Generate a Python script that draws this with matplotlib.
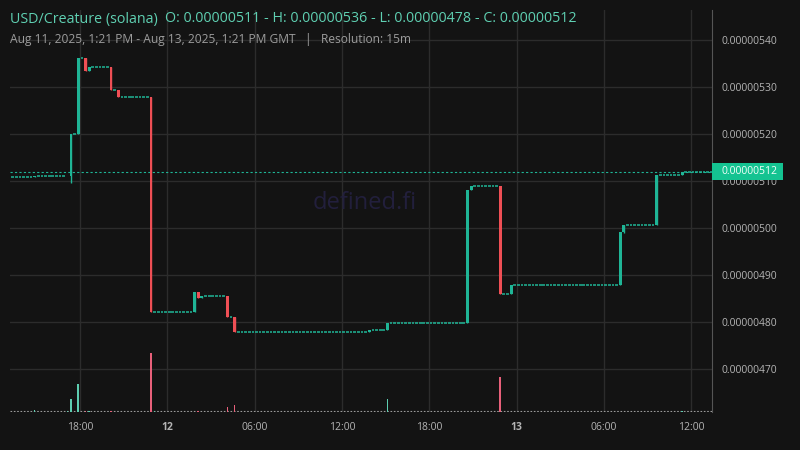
#!/usr/bin/env python3

import pandas as pd
import matplotlib
matplotlib.use("Agg")
import matplotlib.pyplot as plt
import matplotlib.dates as mdates
from matplotlib.patches import Rectangle
from matplotlib.ticker import FixedLocator, FuncFormatter

plt.rcParams['font.family'] = ['Open Sans', 'DejaVu Sans']

# price values in units of 1e-8 USD
start_price = 510.8
move_times = ["2025-08-11 14:45", "2025-08-11 17:00", "2025-08-11 17:15", "2025-08-11 17:45",
              "2025-08-11 18:15", "2025-08-11 18:30", "2025-08-11 20:00", "2025-08-11 20:30",
              "2025-08-11 22:45", "2025-08-12 01:45", "2025-08-12 02:00", "2025-08-12 02:15",
              "2025-08-12 04:00", "2025-08-12 04:30", "2025-08-12 13:45", "2025-08-12 15:00",
              "2025-08-12 20:30", "2025-08-12 20:45", "2025-08-12 22:45", "2025-08-12 23:30",
              "2025-08-13 07:00", "2025-08-13 07:15", "2025-08-13 09:30", "2025-08-13 11:15"]
move_open = [510.8, 511.0, 511.1, 520.1, 536.1, 533.5, 534.3, 529.4, 527.9, 482.2, 486.4, 485.1,
             485.5, 481.1, 477.9, 478.4, 479.8, 508.1, 508.9, 486.0, 487.8, 499.1, 500.6, 511.3]
move_close = [511.0, 511.1, 520.1, 536.1, 533.5, 534.3, 529.4, 527.9, 482.2, 486.4, 485.1, 485.5,
              481.1, 477.9, 478.4, 479.8, 508.1, 508.9, 486.0, 487.8, 499.1, 500.6, 511.3, 512.0]
move_low = [510.8, 511.0, 509.5, 520.1, 533.5, 533.5, 529.4, 527.9, 482.2, 482.2, 485.1, 485.1,
            481.1, 477.9, 477.9, 478.4, 479.8, 508.1, 486.0, 486.0, 487.8, 498.9, 500.6, 511.3]

# volume (relative) for candles that show a visible bar
vol_times = ["2025-08-11 14:45", "2025-08-11 17:00", "2025-08-11 17:15", "2025-08-11 17:45",
             "2025-08-11 18:15", "2025-08-11 18:30", "2025-08-11 20:00", "2025-08-11 22:45",
             "2025-08-11 23:00", "2025-08-12 02:00", "2025-08-12 04:00", "2025-08-12 04:30",
             "2025-08-12 15:00", "2025-08-12 22:45", "2025-08-13 11:15"]
vol_values = [2.5, 1.5, 13, 28, 1.5, 1, 1, 59, 1, 0.6, 5, 7, 13, 35, 1]

# build the 15m candle table (no trades -> flat candle at previous close)
idx = pd.date_range("2025-08-11 13:15", "2025-08-13 13:15", freq="15min")
moves = pd.DataFrame({"open": move_open, "close": move_close, "low": move_low},
                     index=pd.to_datetime(move_times))
df = pd.DataFrame(index=idx)
df = df.join(moves)
df["close"] = df["close"].ffill().fillna(start_price)
prev_close = df["close"].shift(1).fillna(start_price)
df["open"] = df["open"].fillna(prev_close)
df["low"] = df["low"].fillna(df[["open", "close"]].min(axis=1))
df["high"] = df[["open", "close"]].max(axis=1)
df["vol"] = 0.0
df.loc[pd.to_datetime(vol_times), "vol"] = vol_values

bg = "#131313"
green = "#1fb596"
red = "#ef4f55"
vgreen = "#5dcdb0"
vred = "#e8607a"
grid_c = "#2c2c2c"
text_c = "#b4b4b4"

fig = plt.figure(figsize=(8, 4.5), dpi=100, facecolor=bg)
ax = fig.add_axes([10 / 800, 38 / 450, 702 / 800, 402 / 450])
ax.set_facecolor(bg)

# volume on a twin axis (created first so the price ticks stay on the right)
vax = ax.twinx()

step = 15 / 1440
x = mdates.date2num(df.index.to_pydatetime()) + step / 2
scale = 1e-8
up = df["close"] >= df["open"]
flat = df["close"] == df["open"]
colors = [green if u else red for u in up]

# wicks
ax.vlines(x, df["low"] * scale, df["high"] * scale, colors=colors, linewidth=1, zorder=3)
# bodies
body = ~flat
ax.bar(x[body], ((df["close"] - df["open"]) * scale)[body], bottom=(df["open"] * scale)[body],
       width=step * 0.8, color=[c for c, b in zip(colors, body) if b], linewidth=0, zorder=4)
# flat candles drawn as short dashes
ax.hlines((df["close"] * scale)[flat], x[flat] - step * 0.37, x[flat] + step * 0.37,
          colors=green, linewidth=1.1, zorder=3)

# current price line
last = df["close"].iloc[-1] * scale
ax.axhline(last, color=green, linewidth=0.8, linestyle=(0, (2, 2)), zorder=2)

xmin = mdates.date2num(pd.Timestamp("2025-08-11 13:11"))
xmax = mdates.date2num(pd.Timestamp("2025-08-13 13:26"))
ax.set_xlim(xmin, xmax)
ax.set_ylim(460.85 * scale, 546.4 * scale)

vax.bar(x, df["vol"], width=step * 0.45, color=[vgreen if u else vred for u in up],
        linewidth=0, zorder=3)
vax.set_ylim(0, 402)
vax.axhline(1.0, color="#9a9a9a", linewidth=0.8, linestyle=(0, (1.5, 1.5)), zorder=2)
vax.set_yticks([])
for s in vax.spines.values():
    s.set_visible(False)

yt = [470, 480, 490, 500, 510, 520, 530, 540]
ax.yaxis.set_major_locator(FixedLocator([v * scale for v in yt]))
ax.yaxis.set_major_formatter(FuncFormatter(lambda v, p: f"{v:.8f}"))
ax.yaxis.tick_right()
ax.yaxis.set_label_position("right")

xt = pd.date_range("2025-08-11 18:00", "2025-08-13 12:00", freq="6h")
xlabels = ["18:00", "12", "06:00", "12:00", "18:00", "13", "06:00", "12:00"]
ax.set_xticks(mdates.date2num(xt.to_pydatetime()))
ax.set_xticklabels(xlabels)
for lab in ax.get_xticklabels():
    if lab.get_text() in ("12", "13"):
        lab.set_fontweight("bold")
        lab.set_color("#dddddd")

ax.tick_params(axis="both", length=0, colors=text_c, labelsize=7.5)
ax.tick_params(axis="y", pad=7)
ax.tick_params(axis="x", pad=7)
ax.grid(color=grid_c, linewidth=1)
ax.set_axisbelow(True)
for s in ["top", "left", "bottom"]:
    ax.spines[s].set_visible(False)
ax.spines["right"].set_color("#555555")

# current price label on the right axis
ly = ax.transLimits.transform((0, last))[1]
ax_box = ax.get_position()
fy = ax_box.y0 + ly * ax_box.height
fig.patches.append(Rectangle((712 / 800, fy - 8.5 / 450), 71 / 800, 17 / 450,
                             transform=fig.transFigure, facecolor="#14c391",
                             edgecolor="none", zorder=5))
fig.text(721 / 800, fy, f"{last:.8f}", ha="left", va="center", fontsize=7.5,
         color="#f2fffa", zorder=6)

# watermark
ax.text(0.505, 0.52, "defined.fi", transform=ax.transAxes, ha="center", va="center",
        fontsize=17, color="#221f3c", zorder=1)

fig.text(10 / 800, 1 - 19 / 450, "USD/Creature (solana)", color="#5fd0b2", fontsize=10.3,
         va="center", ha="left")
fig.text(165 / 800, 1 - 19 / 450,
         "O: 0.00000511 - H: 0.00000536 - L: 0.00000478 - C: 0.00000512",
         color="#5fd0b2", fontsize=10.3, va="center", ha="left")
fig.text(10 / 800, 1 - 40 / 450,
         "Aug 11, 2025, 1:21 PM - Aug 13, 2025, 1:21 PM GMT   |   Resolution: 15m",
         color="#9c9c9c", fontsize=8.65, va="center", ha="left")

fig.savefig("out.png", dpi=100, facecolor=bg)
